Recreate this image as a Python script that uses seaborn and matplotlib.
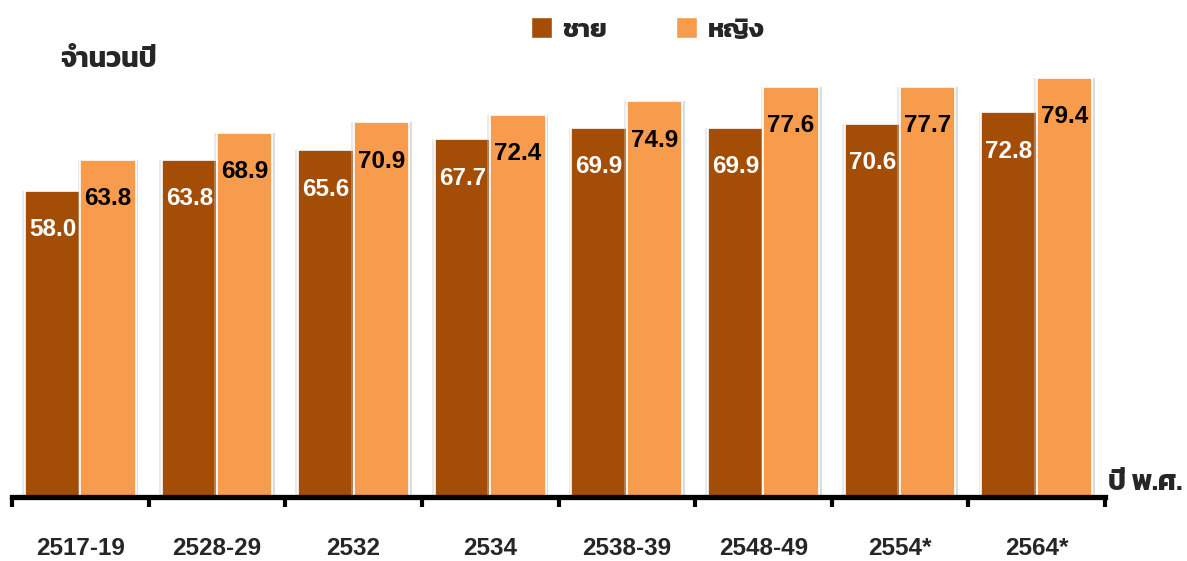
import matplotlib
matplotlib.use("Agg")
import matplotlib.pyplot as plt
import seaborn as sns
import pandas as pd
import numpy as np
from matplotlib import font_manager
from matplotlib.ft2font import FT2Font
import matplotlib.patheffects as pe
from matplotlib.patches import Patch

categories = ["2517-19", "2528-29", "2532", "2534", "2538-39", "2548-49", "2554*", "2564*"]
male = [58.0, 63.8, 65.6, 67.7, 69.9, 69.9, 70.6, 72.8]
female = [63.8, 68.9, 70.9, 72.4, 74.9, 77.6, 77.7, 79.4]
series_names = ["ชาย", "หญิง"]
colors = ["#A34D07", "#F79B4C"]
y_label = "จำนวนปี"
x_label = "ปี พ.ศ."

# find a font with Thai glyphs, prefer a bold face
thai_cands = []
for f in font_manager.fontManager.ttflist:
    try:
        cm = FT2Font(f.fname).get_charmap()
    except Exception:
        continue
    if 0x0E08 in cm and 0x0E0D in cm:
        w = f.weight if isinstance(f.weight, int) else 400
        thai_cands.append((w, f.name, f.fname))
thai_family = None
if thai_cands:
    thai_cands.sort(key=lambda t: -t[0])
    thai_family = thai_cands[0][1]

sns.set_theme(style="white")
plt.rcParams["font.family"] = ["Liberation Sans"] + ([thai_family] if thai_family else []) + ["DejaVu Sans"]
thai_fams = ([thai_family] if thai_family else []) + ["Liberation Sans", "DejaVu Sans"]

df = pd.DataFrame({
    "cat": categories * 2,
    "sex": [series_names[0]] * len(categories) + [series_names[1]] * len(categories),
    "val": male + female,
})

fig = plt.figure(figsize=(11.87, 5.61), dpi=100)
ax = fig.add_axes([12 / 1187, 64 / 561, (1105 - 12) / 1187, 449 / 561])
sns.barplot(data=df, x="cat", y="val", hue="sex", palette=colors, width=0.81,
            ax=ax, legend=False, saturation=1, edgecolor="white", linewidth=1.2)

for p in ax.patches:
    p.set_path_effects([pe.SimplePatchShadow(offset=(2, 0), shadow_rgbFace="#bbbbbb", alpha=0.5),
                        pe.SimplePatchShadow(offset=(-2, 0), shadow_rgbFace="#cccccc", alpha=0.4),
                        pe.Normal()])

ax.set_ylim(0, 85)
ax.set_xlim(-0.5, len(categories) - 0.5)
ax.set_yticks([])
ax.set_xlabel("")
ax.set_ylabel("")
for s in ["top", "left", "right"]:
    ax.spines[s].set_visible(False)
ax.spines["bottom"].set_linewidth(3.8)
ax.spines["bottom"].set_color("black")
ax.spines["bottom"].set_zorder(5)

ax.set_xticks(np.arange(len(categories)))
ax.set_xticklabels(categories, fontsize=17.5, fontweight="bold")
ax.tick_params(axis="x", which="major", length=0, pad=29)
ax.set_xticks(np.arange(-0.5, len(categories)), minor=True)
ax.tick_params(axis="x", which="minor", direction="out", length=7, width=3, color="black", bottom=True)

# value labels
for ci, cont in enumerate(ax.containers):
    tc = "white" if ci == 0 else "black"
    for bar, v in zip(cont, [male, female][ci]):
        ax.annotate(f"{v:.1f}", (bar.get_x() + bar.get_width() / 2, bar.get_height()),
                    xytext=(0, -28), textcoords="offset points", ha="center", va="center",
                    fontsize=17.5, fontweight="bold", color=tc, zorder=6)

# legend
handles = [Patch(facecolor=c, edgecolor="white") for c in colors]
fig.legend(handles, series_names, loc="center", bbox_to_anchor=(648 / 1187, 1 - 30 / 561),
           ncol=2, frameon=False, handlelength=0.8, handleheight=0.8, columnspacing=2.6,
           handletextpad=0.4, prop={"family": thai_fams, "weight": "bold", "size": 19})

fig.text(60 / 1187, 1 - 60 / 561, y_label, ha="left", va="center", fontsize=20,
         fontweight="bold", family=thai_fams)
fig.text(1108 / 1187, 1 - 483 / 561, x_label, ha="left", va="center", fontsize=20,
         fontweight="bold", family=thai_fams)

fig.savefig("out.png", dpi=100)
